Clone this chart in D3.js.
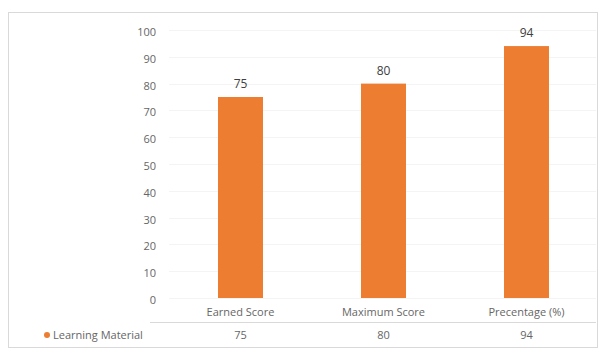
<!DOCTYPE html>
<html>
<head>
<meta charset="utf-8">
<script src="https://cdn.jsdelivr.net/npm/d3@7"></script>
<style>
  body { margin: 0; background: #fff; }
  text { font-family: "Open Sans", "Liberation Sans", sans-serif; fill: #666; }
</style>
</head>
<body>
<svg class="vis-1" width="605" height="350"></svg>
<script>
// chart values
const categories = ["Earned Score", "Maximum Score", "Precentage (%)"];
const values = [75, 80, 94];
const seriesName = "Learning Material";
const yTicks = [0, 10, 20, 30, 40, 50, 60, 70, 80, 90, 100];

const svg = d3.select("svg.vis-1");
const orange = "#ED7D31";

// outer chart border
svg.append("rect")
  .attr("x", 8.5).attr("y", 12.5)
  .attr("width", 589).attr("height", 335)
  .attr("fill", "none")
  .attr("stroke", "#d9d9d9");

const x = d3.scaleBand()
  .domain(categories)
  .range([169, 598])
  .paddingInner(0)
  .paddingOuter(0);

const y = d3.scaleLinear()
  .domain([0, 100])
  .range([298, 30]);

// faint gridlines
svg.append("g")
  .selectAll("line")
  .data(yTicks)
  .join("line")
  .attr("x1", 169).attr("x2", 596)
  .attr("y1", d => Math.round(y(d)) + 0.5)
  .attr("y2", d => Math.round(y(d)) + 0.5)
  .attr("stroke", "#f4f4f4");

// y axis labels
const yAxis = svg.append("g")
  .attr("transform", "translate(156,2)")
  .call(d3.axisLeft(y).tickValues(yTicks).tickSize(0).tickPadding(0));
yAxis.select(".domain").remove();
yAxis.selectAll("text")
  .attr("font-size", 11)
  .attr("fill", "#666")
  .style("font-family", "Open Sans, sans-serif");

// bars
const barW = 45;
svg.selectAll(".bar")
  .data(values)
  .join("rect")
  .attr("class", "bar")
  .attr("x", (d, i) => x(categories[i]) + x.bandwidth() / 2 - barW / 2)
  .attr("y", d => y(d))
  .attr("width", barW)
  .attr("height", d => y(0) - y(d))
  .attr("fill", orange);

// value labels
svg.selectAll(".val")
  .data(values)
  .join("text")
  .attr("class", "val")
  .attr("x", (d, i) => x(categories[i]) + x.bandwidth() / 2)
  .attr("y", d => y(d) - 9)
  .attr("text-anchor", "middle")
  .attr("font-size", 12)
  .style("fill", "#404040")
  .text(d => d);

// category labels
svg.selectAll(".cat")
  .data(categories)
  .join("text")
  .attr("class", "cat")
  .attr("x", d => x(d) + x.bandwidth() / 2)
  .attr("y", 316)
  .attr("text-anchor", "middle")
  .attr("font-size", 11)
  .text(d => d);

// data table line
svg.append("line")
  .attr("x1", 150).attr("x2", 596)
  .attr("y1", 322.5).attr("y2", 322.5)
  .attr("stroke", "#d9d9d9");

// data table row
svg.append("circle")
  .attr("cx", 47).attr("cy", 335)
  .attr("r", 3)
  .attr("fill", orange);
svg.append("text")
  .attr("x", 53).attr("y", 339)
  .attr("font-size", 11)
  .text(seriesName);

svg.selectAll(".tbl")
  .data(values)
  .join("text")
  .attr("class", "tbl")
  .attr("x", (d, i) => x(categories[i]) + x.bandwidth() / 2)
  .attr("y", 339)
  .attr("text-anchor", "middle")
  .attr("font-size", 11)
  .text(d => d);
</script>
</body>
</html>
